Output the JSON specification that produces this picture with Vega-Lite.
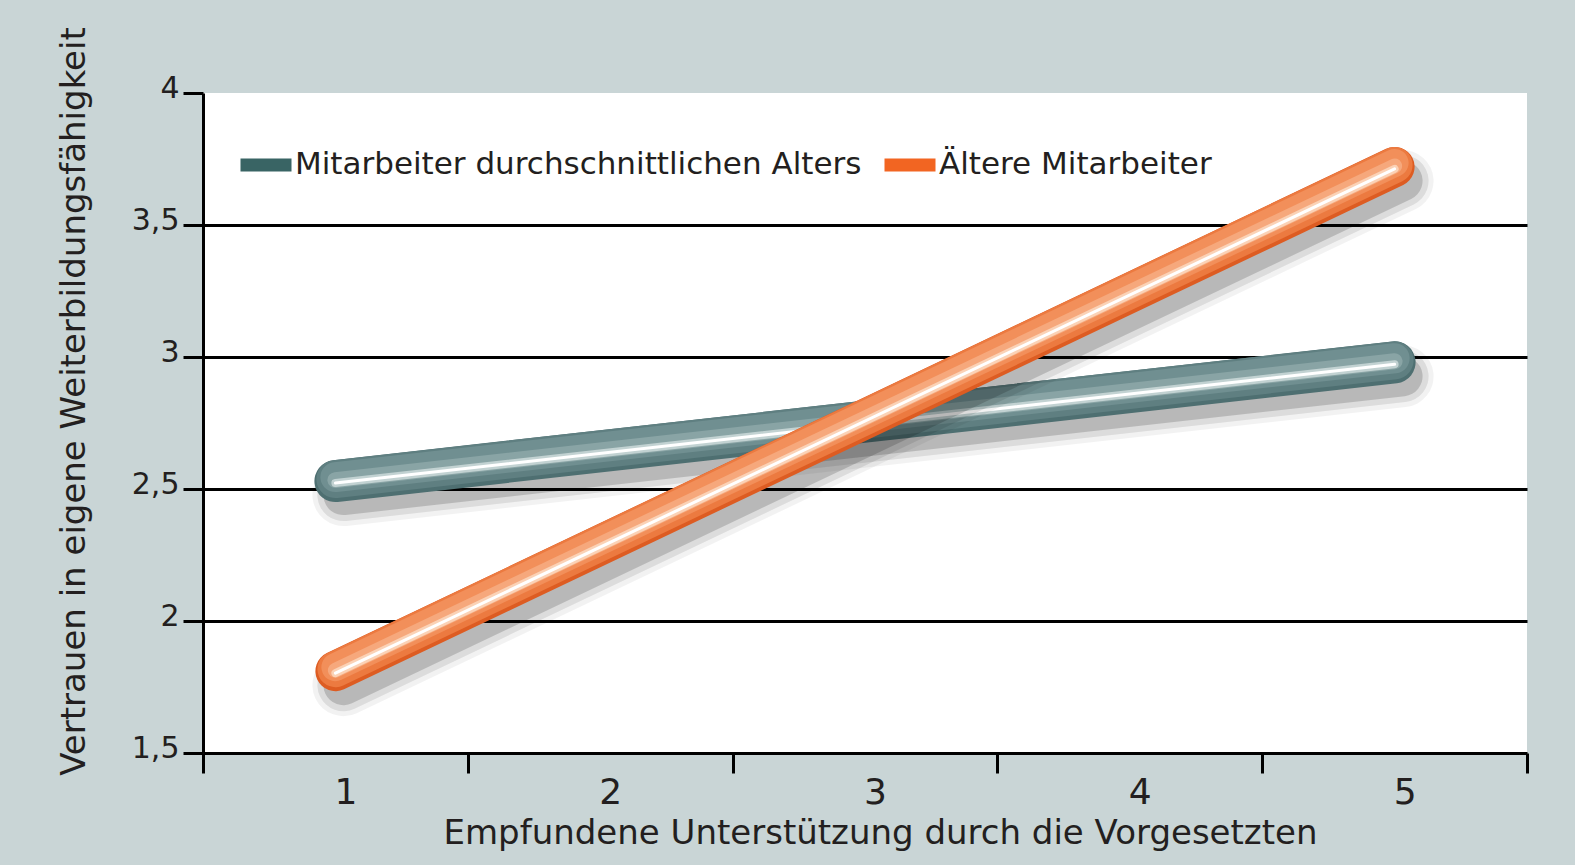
{
  "$schema": "https://vega.github.io/schema/vega-lite/v6.json",
  "width": 1324,
  "height": 660,
  "autosize": {"type": "none"},
  "padding": {"left": 203, "top": 93, "right": 48, "bottom": 112},
  "background": "#c9d5d6",
  "view": {"fill": "white", "stroke": null},
  "config": {
    "font": "DejaVu Sans",
    "axis": {"labelFont": "DejaVu Sans", "titleFont": "DejaVu Sans", "labelColor": "#231f20", "titleColor": "#231f20", "titleFontWeight": "normal"},
    "legend": {"labelFont": "DejaVu Sans"}
  },
  "data": {
    "values": [
      {"x": 1, "series": "Mitarbeiter durchschnittlichen Alters", "y": 2.53},
      {"x": 5, "series": "Mitarbeiter durchschnittlichen Alters", "y": 2.98},
      {"x": 1, "series": "Ältere Mitarbeiter", "y": 1.81},
      {"x": 5, "series": "Ältere Mitarbeiter", "y": 3.72}
    ]
  },
  "encoding": {
    "x": {
      "field": "x", "type": "ordinal",
      "scale": {"type": "band", "domain": [1, 2, 3, 4, 5], "paddingInner": 0, "paddingOuter": 0},
      "axis": {
        "title": "Empfundene Unterstützung durch die Vorgesetzten",
        "titleFontSize": 34, "titleX": 677, "titlePadding": 6,
        "labelAngle": 0, "labelFontSize": 36, "labelOffset": 10, "labelPadding": 2,
        "tickBand": "extent", "tickSize": 20, "tickWidth": 3, "tickColor": "black",
        "domainColor": "black", "domainWidth": 3, "grid": false
      }
    },
    "y": {
      "field": "y", "type": "quantitative",
      "scale": {"domain": [1.5, 4], "nice": false, "zero": false},
      "axis": {
        "title": "Vertrauen in eigene Weiterbildungsfähigkeit",
        "titleFontSize": 34, "titleY": 308, "titlePadding": 40,
        "values": [1.5, 2, 2.5, 3, 3.5, 4],
        "labelExpr": "replace(format(datum.value, '.1~f'), '.', ',')",
        "labelFontSize": 30, "labelPadding": 4, "labelOffset": -5,
        "tickSize": 20, "tickWidth": 3, "tickColor": "black",
        "domainColor": "black", "domainWidth": 3,
        "grid": true, "gridColor": "black", "gridWidth": 3,
        "gridOpacity": {"condition": {"test": "datum.value >= 4 || datum.value <= 1.5", "value": 0}, "value": 1}
      }
    }
  },
  "layer": [
    {
      "mark": {"type": "line", "opacity": 0},
      "encoding": {
        "color": {
          "field": "series", "type": "nominal",
          "scale": {"domain": ["Mitarbeiter durchschnittlichen Alters", "Ältere Mitarbeiter"], "range": ["#396464", "#f26522"]},
          "legend": {
            "title": null, "orient": "none", "direction": "horizontal",
            "legendX": 31, "legendY": 40,
            "symbolType": "stroke", "symbolSize": 2601, "symbolStrokeWidth": 13, "symbolOpacity": 1,
            "labelFontSize": 31, "labelColor": "#231f20", "labelOffset": -3, "labelLimit": 0, "columnPadding": -4,
            "encode": {"symbols": {"update": {"opacity": {"value": 1}, "strokeWidth": {"value": 13}}}}
          }
        }
      }
    },
    {"transform": [{"filter": "datum.series === 'Mitarbeiter durchschnittlichen Alters'"}], "mark": {"type": "line", "strokeCap": "round", "stroke": "#000", "strokeWidth": 62, "opacity": 0.05, "xOffset": 8, "yOffset": 14}, "encoding": {}},
    {"transform": [{"filter": "datum.series === 'Mitarbeiter durchschnittlichen Alters'"}], "mark": {"type": "line", "strokeCap": "round", "stroke": "#000", "strokeWidth": 52, "opacity": 0.09, "xOffset": 8, "yOffset": 14}, "encoding": {}},
    {"transform": [{"filter": "datum.series === 'Mitarbeiter durchschnittlichen Alters'"}], "mark": {"type": "line", "strokeCap": "round", "stroke": "#000", "strokeWidth": 40, "opacity": 0.16, "xOffset": 8, "yOffset": 14}, "encoding": {}},
    {"transform": [{"filter": "datum.series === 'Mitarbeiter durchschnittlichen Alters'"}], "mark": {"type": "line", "strokeCap": "round", "stroke": "#4e6f71", "strokeWidth": 42}, "encoding": {}},
    {"transform": [{"filter": "datum.series === 'Mitarbeiter durchschnittlichen Alters'"}], "mark": {"type": "line", "strokeCap": "round", "stroke": "#5f7f81", "strokeWidth": 38, "yOffset": -2}, "encoding": {}},
    {"transform": [{"filter": "datum.series === 'Mitarbeiter durchschnittlichen Alters'"}], "mark": {"type": "line", "strokeCap": "round", "stroke": "#708f91", "strokeWidth": 30, "yOffset": -4}, "encoding": {}},
    {"transform": [{"filter": "datum.series === 'Mitarbeiter durchschnittlichen Alters'"}], "mark": {"type": "line", "strokeCap": "round", "stroke": "#89a4a5", "strokeWidth": 16, "yOffset": -1}, "encoding": {}},
    {"transform": [{"filter": "datum.series === 'Mitarbeiter durchschnittlichen Alters'"}], "mark": {"type": "line", "strokeCap": "round", "stroke": "#c2d2d2", "strokeWidth": 8, "yOffset": 2}, "encoding": {}},
    {"transform": [{"filter": "datum.series === 'Mitarbeiter durchschnittlichen Alters'"}], "mark": {"type": "line", "strokeCap": "round", "stroke": "#ffffff", "strokeWidth": 3, "yOffset": 2}, "encoding": {}},
    {"transform": [{"filter": "datum.series === 'Ältere Mitarbeiter'"}], "mark": {"type": "line", "strokeCap": "round", "stroke": "#000", "strokeWidth": 62, "opacity": 0.05, "xOffset": 8, "yOffset": 14}, "encoding": {}},
    {"transform": [{"filter": "datum.series === 'Ältere Mitarbeiter'"}], "mark": {"type": "line", "strokeCap": "round", "stroke": "#000", "strokeWidth": 52, "opacity": 0.09, "xOffset": 8, "yOffset": 14}, "encoding": {}},
    {"transform": [{"filter": "datum.series === 'Ältere Mitarbeiter'"}], "mark": {"type": "line", "strokeCap": "round", "stroke": "#000", "strokeWidth": 40, "opacity": 0.16, "xOffset": 8, "yOffset": 14}, "encoding": {}},
    {"transform": [{"filter": "datum.series === 'Ältere Mitarbeiter'"}], "mark": {"type": "line", "strokeCap": "round", "stroke": "#dd5c22", "strokeWidth": 40}, "encoding": {}},
    {"transform": [{"filter": "datum.series === 'Ältere Mitarbeiter'"}], "mark": {"type": "line", "strokeCap": "round", "stroke": "#ec7a40", "strokeWidth": 36, "yOffset": -2}, "encoding": {}},
    {"transform": [{"filter": "datum.series === 'Ältere Mitarbeiter'"}], "mark": {"type": "line", "strokeCap": "round", "stroke": "#f28f5a", "strokeWidth": 28, "yOffset": -4}, "encoding": {}},
    {"transform": [{"filter": "datum.series === 'Ältere Mitarbeiter'"}], "mark": {"type": "line", "strokeCap": "round", "stroke": "#f6a87c", "strokeWidth": 15, "yOffset": -1}, "encoding": {}},
    {"transform": [{"filter": "datum.series === 'Ältere Mitarbeiter'"}], "mark": {"type": "line", "strokeCap": "round", "stroke": "#fbd2b6", "strokeWidth": 8, "yOffset": 2}, "encoding": {}},
    {"transform": [{"filter": "datum.series === 'Ältere Mitarbeiter'"}], "mark": {"type": "line", "strokeCap": "round", "stroke": "#ffffff", "strokeWidth": 3, "yOffset": 2}, "encoding": {}}
  ]
}
